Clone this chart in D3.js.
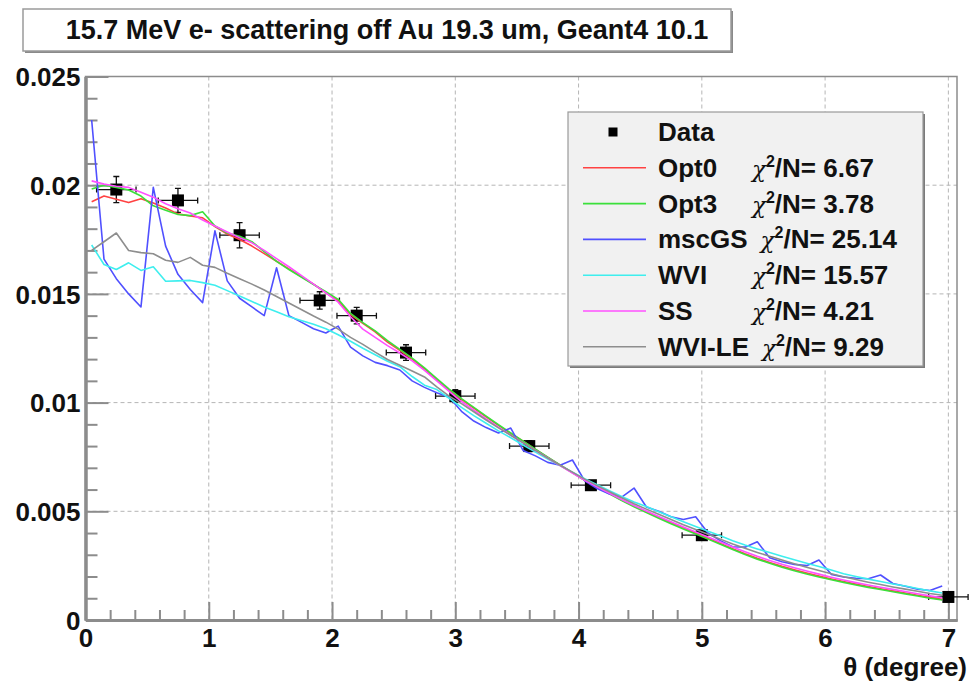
<!DOCTYPE html>
<html>
<head>
<meta charset="utf-8">
<script src="https://cdn.jsdelivr.net/npm/d3@7"></script>
<style>
  body { margin: 0; background: #fff; }
  text { font-family: "Liberation Sans", Arial, sans-serif; font-weight: bold; fill: #111; }
</style>
</head>
<body>
<div id="chart"></div>
<script>
// measured data points
const dataTheta = [0.25, 0.75, 1.25, 1.9, 2.2, 2.6, 3.0, 3.6, 4.1, 5.0, 7.0];
const dataValue = [0.0198, 0.0193, 0.0177, 0.0147, 0.0140, 0.0123, 0.0103, 0.0080, 0.0062, 0.0039, 0.00106];
const dataErrY  = [0.0006, 0.00055, 0.00058, 0.0004, 0.00038, 0.00036, 0.0003, 0.00025, 0.0002, 0.00015, 0.0001];
const dataErrX  = [0.16, 0.16, 0.16, 0.16, 0.16, 0.16, 0.16, 0.16, 0.16, 0.16, 0.16];

// simulation histograms, 0.1 degree bins
const binCenters = d3.range(70).map(i => +(0.05 + 0.1 * i).toFixed(2));

const opt0 = [
  0.01924, 0.01950, 0.01935, 0.01920, 0.01938, 0.01918, 0.01895, 0.01868, 0.01858, 0.01850,
  0.01810, 0.01775, 0.01750, 0.01720, 0.01685, 0.01650, 0.01615, 0.01580, 0.01545, 0.01505,
  0.01468, 0.01405, 0.01365, 0.01325, 0.01278, 0.01240, 0.01200, 0.01155, 0.01105, 0.01058,
  0.01015, 0.00975, 0.00935, 0.00895, 0.00858, 0.00822, 0.00785, 0.00748, 0.00712, 0.00678,
  0.00642, 0.00612, 0.00582, 0.00552, 0.00524, 0.00497, 0.00472, 0.00448, 0.00424, 0.00400,
  0.00376, 0.00352, 0.00328, 0.00305, 0.00284, 0.00265, 0.00247, 0.00231, 0.00216, 0.00202,
  0.00189, 0.00177, 0.00165, 0.00154, 0.00144, 0.00134, 0.00124, 0.00114, 0.00104, 0.00095];
const opt3 = [
  0.01983, 0.02000, 0.01990, 0.01978, 0.01950, 0.01905, 0.01885, 0.01865, 0.01860, 0.01878,
  0.01812, 0.01780, 0.01765, 0.01740, 0.01695, 0.01650, 0.01612, 0.01578, 0.01543, 0.01510,
  0.01475, 0.01410, 0.01368, 0.01330, 0.01285, 0.01245, 0.01205, 0.01160, 0.01110, 0.01062,
  0.01018, 0.00978, 0.00938, 0.00898, 0.00860, 0.00823, 0.00786, 0.00749, 0.00713, 0.00678,
  0.00643, 0.00611, 0.00580, 0.00550, 0.00521, 0.00494, 0.00468, 0.00443, 0.00419, 0.00396,
  0.00372, 0.00348, 0.00324, 0.00301, 0.00280, 0.00261, 0.00243, 0.00227, 0.00212, 0.00198,
  0.00185, 0.00173, 0.00161, 0.00150, 0.00140, 0.00130, 0.00120, 0.00110, 0.00100, 0.00092];
const mscGS = [
  0.02300, 0.01660, 0.01570, 0.01500, 0.01440, 0.01990, 0.01720, 0.01590, 0.01520, 0.01460,
  0.01790, 0.01560, 0.01480, 0.01440, 0.01400, 0.01620, 0.01400, 0.01370, 0.01340, 0.01320,
  0.01352, 0.01255, 0.01215, 0.01185, 0.01170, 0.01150, 0.01100, 0.01070, 0.01045, 0.01025,
  0.00960, 0.00915, 0.00885, 0.00860, 0.00883, 0.00780, 0.00755, 0.00725, 0.00712, 0.00736,
  0.00640, 0.00605, 0.00580, 0.00565, 0.00607, 0.00520, 0.00500, 0.00475, 0.00462, 0.00475,
  0.00400, 0.00365, 0.00337, 0.00335, 0.00360, 0.00286, 0.00268, 0.00256, 0.00250, 0.00276,
  0.00210, 0.00198, 0.00192, 0.00190, 0.00207, 0.00168, 0.00155, 0.00142, 0.00136, 0.00156];
const wvi = [
  0.01725, 0.01635, 0.01612, 0.01643, 0.01608, 0.01625, 0.01558, 0.01560, 0.01562, 0.01552,
  0.01540, 0.01515, 0.01490, 0.01465, 0.01440, 0.01418, 0.01395, 0.01378, 0.01360, 0.01340,
  0.01312, 0.01282, 0.01250, 0.01220, 0.01190, 0.01165, 0.01120, 0.01080, 0.01060, 0.01020,
  0.00978, 0.00940, 0.00905, 0.00870, 0.00838, 0.00805, 0.00772, 0.00740, 0.00710, 0.00680,
  0.00650, 0.00622, 0.00595, 0.00568, 0.00543, 0.00522, 0.00498, 0.00475, 0.00452, 0.00430,
  0.00408, 0.00388, 0.00365, 0.00345, 0.00327, 0.00310, 0.00293, 0.00277, 0.00261, 0.00246,
  0.00230, 0.00213, 0.00200, 0.00188, 0.00177, 0.00166, 0.00156, 0.00145, 0.00134, 0.00124];
const ss = [
  0.02020, 0.02005, 0.01995, 0.01990, 0.01968, 0.01945, 0.01915, 0.01892, 0.01872, 0.01840,
  0.01812, 0.01785, 0.01758, 0.01735, 0.01700, 0.01662, 0.01625, 0.01585, 0.01545, 0.01505,
  0.01462, 0.01395, 0.01338, 0.01300, 0.01262, 0.01228, 0.01192, 0.01148, 0.01100, 0.01052,
  0.01005, 0.00965, 0.00925, 0.00887, 0.00850, 0.00815, 0.00780, 0.00745, 0.00710, 0.00676,
  0.00643, 0.00613, 0.00583, 0.00554, 0.00527, 0.00501, 0.00476, 0.00452, 0.00428, 0.00405,
  0.00382, 0.00359, 0.00336, 0.00314, 0.00293, 0.00274, 0.00256, 0.00240, 0.00225, 0.00211,
  0.00197, 0.00184, 0.00172, 0.00161, 0.00151, 0.00141, 0.00131, 0.00121, 0.00111, 0.00102];
const wviLE = [
  0.01700, 0.01740, 0.01780, 0.01700, 0.01690, 0.01685, 0.01655, 0.01645, 0.01668, 0.01632,
  0.01622, 0.01595, 0.01570, 0.01545, 0.01518, 0.01488, 0.01458, 0.01428, 0.01398, 0.01370,
  0.01338, 0.01300, 0.01268, 0.01232, 0.01198, 0.01172, 0.01145, 0.01118, 0.01072, 0.01030,
  0.00995, 0.00958, 0.00920, 0.00884, 0.00850, 0.00815, 0.00780, 0.00745, 0.00712, 0.00680,
  0.00648, 0.00618, 0.00590, 0.00562, 0.00535, 0.00510, 0.00486, 0.00462, 0.00438, 0.00416,
  0.00394, 0.00372, 0.00350, 0.00330, 0.00311, 0.00293, 0.00276, 0.00259, 0.00243, 0.00228,
  0.00213, 0.00199, 0.00186, 0.00174, 0.00163, 0.00152, 0.00142, 0.00132, 0.00122, 0.00114];

const seriesNames = ["Opt0", "Opt3", "mscGS", "WVI", "SS", "WVI-LE"];
const chiValues = ["6.67", "3.78", "25.14", "15.57", "4.21", "9.29"];
const xTickLabels = ["0", "1", "2", "3", "4", "5", "6", "7"];
const yTickLabels = ["0", "0.005", "0.01", "0.015", "0.02", "0.025"];

const seriesValues = [opt0, opt3, mscGS, wvi, ss, wviLE];
const seriesColors = ["#ff4242", "#3be03b", "#5050ff", "#3eeeee", "#ff50ff", "#8e8e8e"];

const width = 970, height = 688;
const frame = { left: 85.5, right: 957, top: 76.5, bottom: 620 };

const svg = d3.select("#chart").append("svg")
  .attr("width", width)
  .attr("height", height);

const x = d3.scaleLinear().domain([0, 7.07]).range([frame.left, frame.right]);
const y = d3.scaleLinear().domain([0, 0.025]).range([frame.bottom, frame.top]);

const xMajor = xTickLabels.map(Number);
const xMinor = d3.range(0, 36).map(i => +(i * 0.2).toFixed(1)).filter(v => v <= 7.0 && !xMajor.includes(v));
const yMajor = yTickLabels.map(Number);
const yMinor = d3.range(0, 26).map(i => +(i * 0.001).toFixed(3)).filter(v => !yMajor.some(m => Math.abs(m - v) < 1e-9));

// title box
const title = svg.append("g");
title.append("rect")
  .attr("x", 25).attr("y", 11).attr("width", 708).attr("height", 42)
  .attr("fill", "#8a8a8a");
title.append("rect")
  .attr("x", 23).attr("y", 9).attr("width", 708).attr("height", 42)
  .attr("fill", "#fff").attr("stroke", "#9a9a9a").attr("stroke-width", 1.5);
title.append("text")
  .attr("x", 387).attr("y", 39)
  .attr("text-anchor", "middle")
  .style("font-size", "27px")
  .text("15.7 MeV e- scattering off Au 19.3 um, Geant4 10.1");

// grid
const grid = svg.append("g")
  .attr("stroke", "#b5b5b5").attr("stroke-width", 1).attr("stroke-dasharray", "4,3");
grid.selectAll("line.gx").data(xMajor.slice(1)).join("line")
  .attr("x1", d => x(d)).attr("x2", d => x(d))
  .attr("y1", frame.top).attr("y2", frame.bottom);
grid.selectAll("line.gy").data(yMajor.slice(1, -1)).join("line")
  .attr("x1", frame.left).attr("x2", frame.right)
  .attr("y1", d => y(d)).attr("y2", d => y(d));

// frame
svg.append("rect")
  .attr("x", frame.left).attr("y", frame.top)
  .attr("width", frame.right - frame.left).attr("height", frame.bottom - frame.top)
  .attr("fill", "none").attr("stroke", "#8c8c8c").attr("stroke-width", 1.5);

// axes
const xAxisMinor = svg.append("g")
  .attr("transform", `translate(0,${frame.bottom})`)
  .call(d3.axisBottom(x).tickValues(xMinor).tickSize(-10).tickSizeOuter(0).tickFormat(""));
const xAxis = svg.append("g")
  .attr("transform", `translate(0,${frame.bottom})`)
  .call(d3.axisBottom(x).tickValues(xMajor).tickSize(-18).tickSizeOuter(0).tickPadding(9)
    .tickFormat((d, i) => xTickLabels[i]));
const yAxisMinor = svg.append("g")
  .attr("transform", `translate(${frame.left},0)`)
  .call(d3.axisLeft(y).tickValues(yMinor).tickSize(-12).tickSizeOuter(0).tickFormat(""));
const yAxis = svg.append("g")
  .attr("transform", `translate(${frame.left},0)`)
  .call(d3.axisLeft(y).tickValues(yMajor).tickSize(-23).tickSizeOuter(0).tickPadding(5)
    .tickFormat((d, i) => yTickLabels[i]));

[xAxisMinor, xAxis, yAxisMinor, yAxis].forEach(g => {
  g.selectAll(".domain").attr("stroke", "#8c8c8c").attr("stroke-width", 3);
  g.selectAll(".tick line").attr("stroke", "#8c8c8c").attr("stroke-width", 2);
  g.selectAll(".tick text")
    .attr("fill", "#111")
    .style("font-family", "'Liberation Sans', Arial, sans-serif")
    .style("font-weight", "bold")
    .style("font-size", "26px");
});
yAxis.selectAll(".tick text").attr("dy", "0.36em");

svg.append("text")
  .attr("x", 967).attr("y", 676)
  .attr("text-anchor", "end")
  .style("font-size", "26px")
  .text("θ (degree)");

// data points with error bars
const points = dataTheta.map((t, i) => ({ t, v: dataValue[i], ex: dataErrX[i], ey: dataErrY[i] }));
const pts = svg.append("g").attr("stroke", "#111").attr("stroke-width", 1.3);
const cap = 3;
pts.selectAll("path.err").data(points).join("path")
  .attr("fill", "none")
  .attr("d", d => {
    const cx = x(d.t), cy = y(d.v);
    const x0 = x(d.t - d.ex), x1 = x(d.t + d.ex);
    const y0 = y(d.v - d.ey), y1 = y(d.v + d.ey);
    return `M${x0},${cy}H${x1}M${x0},${cy - cap}V${cy + cap}M${x1},${cy - cap}V${cy + cap}` +
           `M${cx},${y0}V${y1}M${cx - cap},${y0}H${cx + cap}M${cx - cap},${y1}H${cx + cap}`;
  });
pts.selectAll("rect").data(points).join("rect")
  .attr("x", d => x(d.t) - 6).attr("y", d => y(d.v) - 6)
  .attr("width", 12).attr("height", 12)
  .attr("fill", "#000").attr("stroke", "none");

// simulation curves
const line = d3.line().x(d => x(d.t)).y(d => y(d.v));
svg.append("g").selectAll("path.curve")
  .data(seriesValues.map((vals, k) => ({ k, pts: vals.map((v, i) => ({ t: binCenters[i], v })) })))
  .join("path")
  .attr("fill", "none")
  .attr("stroke", d => seriesColors[d.k])
  .attr("stroke-width", 1.6)
  .attr("stroke-linejoin", "round")
  .attr("d", d => line(d.pts));

// legend
const lg = { x: 568, y: 112, w: 355, h: 254, row: 35.8, first: 132 };
const legend = svg.append("g");
legend.append("rect")
  .attr("x", lg.x + 2).attr("y", lg.y + 2).attr("width", lg.w).attr("height", lg.h)
  .attr("fill", "#7a7a7a");
legend.append("rect")
  .attr("x", lg.x).attr("y", lg.y).attr("width", lg.w).attr("height", lg.h)
  .attr("fill", "#f1f1f1").attr("stroke", "#9a9a9a").attr("stroke-width", 1.2);

legend.append("rect")
  .attr("x", 608.5).attr("y", lg.first - 4.5).attr("width", 9).attr("height", 9)
  .attr("fill", "#000");
legend.append("text")
  .attr("x", 658).attr("y", lg.first + 9)
  .style("font-size", "26px")
  .text("Data");

seriesNames.forEach((name, i) => {
  const cy = lg.first + (i + 1) * lg.row;
  legend.append("line")
    .attr("x1", 583).attr("x2", 646).attr("y1", cy).attr("y2", cy)
    .attr("stroke", seriesColors[i]).attr("stroke-width", 1.6);
  const label = legend.append("text")
    .attr("x", 658).attr("y", cy + 9)
    .style("font-size", "26px")
    .text(name);
  const w = label.node().getComputedTextLength();
  const chiX = Math.max(752, 658 + w + 13);
  const chi = legend.append("text")
    .attr("x", chiX).attr("y", cy + 9)
    .style("font-size", "26px");
  chi.append("tspan")
    .style("font-family", "'DejaVu Serif', serif")
    .style("font-style", "italic")
    .style("font-weight", "normal")
    .style("font-size", "23px")
    .text("χ");
  chi.append("tspan")
    .attr("dy", -10)
    .style("font-size", "16px")
    .text("2");
  chi.append("tspan")
    .attr("dy", 10)
    .text("/N= " + chiValues[i]);
});
</script>
</body>
</html>
